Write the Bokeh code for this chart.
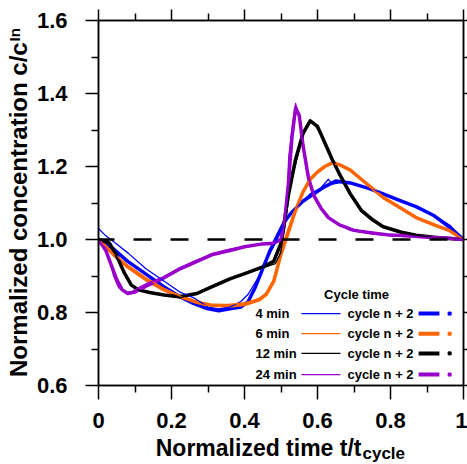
import math
from bokeh.plotting import figure
from bokeh.models import Range1d, LinearAxis, Span, Title, FixedTicker, CustomJSTickFormatter
from bokeh.core.properties import value
from bokeh.embed import file_html
from bokeh.resources import INLINE

# ---------------- data ----------------
x_ticks = [0, 0.2, 0.4, 0.6, 0.8, 1.0]
x_tick_labels = ["0", "0.2", "0.4", "0.6", "0.8", "1"]
x_minor = [0.1, 0.3, 0.5, 0.7, 0.9]
y_ticks = [0.6, 0.8, 1.0, 1.2, 1.4, 1.6]
y_tick_labels = ["0.6", "0.8", "1.0", "1.2", "1.4", "1.6"]
y_minor = [0.7, 0.9, 1.1, 1.3, 1.5]

cycle_names = ["4  min", "6 min", "12 min", "24 min"]
colors = ["#0000FF", "#FF6600", "#000000", "#9900CC"]

# 4 min
t4 = [0, 0.02, 0.047, 0.082, 0.13, 0.19, 0.225, 0.26, 0.30, 0.33, 0.36, 0.39, 0.41, 0.436, 0.463,
      0.485, 0.507, 0.526, 0.553, 0.581, 0.608, 0.63, 0.64, 0.663, 0.69, 0.737, 0.781, 0.827, 0.874,
      0.918, 0.964, 1.0]
c4 = [1.03, 1.01, 0.99, 0.962, 0.92, 0.879, 0.855, 0.841, 0.815, 0.81, 0.815, 0.83, 0.85, 0.893, 0.948,
      0.992, 1.038, 1.071, 1.099, 1.126, 1.14, 1.165, 1.152, 1.156, 1.156, 1.142, 1.126, 1.107, 1.088,
      1.066, 1.038, 1.0]
t4n2 = [0, 0.04, 0.08, 0.13, 0.18, 0.22, 0.26, 0.30, 0.33, 0.36, 0.39, 0.41, 0.43, 0.45, 0.47, 0.49,
        0.51, 0.53, 0.56, 0.59, 0.62, 0.65, 0.69, 0.74, 0.78, 0.83, 0.87, 0.92, 0.96, 1.0]
c4n2 = [1.0, 0.975, 0.94, 0.905, 0.87, 0.845, 0.825, 0.81, 0.805, 0.81, 0.815, 0.83, 0.87, 0.92, 0.97,
        1.01, 1.05, 1.075, 1.105, 1.125, 1.145, 1.16, 1.155, 1.14, 1.125, 1.105, 1.09, 1.065, 1.035, 1.0]

# 6 min
t6 = [0, 0.038, 0.082, 0.129, 0.175, 0.219, 0.266, 0.293, 0.312, 0.356, 0.403, 0.449, 0.463, 0.471,
      0.485, 0.493, 0.504, 0.518, 0.534, 0.553, 0.573, 0.589, 0.616, 0.641, 0.663, 0.69, 0.718, 0.745,
      0.781, 0.827, 0.874, 0.918, 0.964, 1.0]
c6 = [1.0, 0.964, 0.929, 0.896, 0.868, 0.847, 0.827, 0.819, 0.822, 0.822, 0.827, 0.841, 0.860, 0.874,
      0.901, 0.937, 0.984, 1.025, 1.071, 1.115, 1.153, 1.175, 1.197, 1.208, 1.203, 1.189, 1.167, 1.142,
      1.112, 1.085, 1.060, 1.038, 1.025, 1.0]
t6n2 = [0, 0.04, 0.08, 0.13, 0.18, 0.22, 0.27, 0.31, 0.36, 0.40, 0.44, 0.46, 0.48, 0.50, 0.52, 0.54,
        0.56, 0.58, 0.60, 0.62, 0.64, 0.66, 0.69, 0.72, 0.75, 0.78, 0.83, 0.87, 0.92, 0.96, 1.0]
c6n2 = [1.0, 0.96, 0.925, 0.89, 0.862, 0.845, 0.828, 0.82, 0.818, 0.822, 0.835, 0.85, 0.885, 0.96, 1.02,
        1.08, 1.13, 1.165, 1.185, 1.2, 1.21, 1.205, 1.19, 1.165, 1.14, 1.115, 1.085, 1.06, 1.04, 1.025, 1.0]

# 12 min
t12 = [0, 0.027, 0.041, 0.068, 0.082, 0.096, 0.115, 0.15, 0.178, 0.225, 0.271, 0.315, 0.362, 0.408,
       0.452, 0.485, 0.499, 0.51, 0.526, 0.545, 0.562, 0.575, 0.589, 0.608, 0.627, 0.644, 0.663, 0.69,
       0.718, 0.745, 0.781, 0.827, 0.874, 0.918, 0.964, 1.0]
c12 = [1.0, 0.997, 0.97, 0.915, 0.89, 0.868, 0.860, 0.852, 0.847, 0.841, 0.855, 0.874, 0.893, 0.910,
       0.923, 0.934, 0.964, 1.03, 1.153, 1.225, 1.290, 1.321, 1.321, 1.290, 1.249, 1.208, 1.170, 1.12,
       1.079, 1.055, 1.033, 1.019, 1.011, 1.005, 1.003, 1.0]
t12n2 = [0, 0.03, 0.05, 0.07, 0.09, 0.11, 0.14, 0.18, 0.22, 0.27, 0.31, 0.36, 0.41, 0.45, 0.48, 0.50,
         0.52, 0.54, 0.56, 0.58, 0.60, 0.62, 0.64, 0.66, 0.69, 0.72, 0.75, 0.78, 0.83, 0.87, 0.92, 0.96, 1.0]
c12n2 = [1.0, 0.99, 0.955, 0.91, 0.875, 0.862, 0.855, 0.848, 0.843, 0.852, 0.87, 0.892, 0.91, 0.925,
         0.94, 0.99, 1.12, 1.22, 1.29, 1.325, 1.31, 1.265, 1.22, 1.18, 1.125, 1.08, 1.055, 1.035, 1.02,
         1.012, 1.006, 1.003, 1.0]

# 24 min
t24 = [0, 0.019, 0.033, 0.041, 0.055, 0.074, 0.093, 0.110, 0.137, 0.175, 0.219, 0.266, 0.293, 0.312,
       0.356, 0.403, 0.449, 0.471, 0.49, 0.504, 0.512, 0.518, 0.521, 0.532, 0.540, 0.548, 0.559, 0.573,
       0.589, 0.608, 0.627, 0.655, 0.69, 0.745, 0.8, 0.9, 1.0]
c24 = [1.0, 0.975, 0.937, 0.901, 0.868, 0.855, 0.858, 0.868, 0.882, 0.896, 0.921, 0.942, 0.953, 0.962,
       0.973, 0.981, 0.989, 0.99, 0.992, 1.005, 1.060, 1.134, 1.225, 1.318, 1.373, 1.345, 1.271, 1.181,
       1.126, 1.088, 1.060, 1.044, 1.025, 1.016, 1.01, 1.005, 1.0]
t24n2 = [0, 0.02, 0.035, 0.05, 0.065, 0.08, 0.10, 0.13, 0.17, 0.22, 0.27, 0.31, 0.36, 0.40, 0.45, 0.48,
         0.50, 0.51, 0.52, 0.53, 0.54, 0.55, 0.56, 0.575, 0.59, 0.61, 0.63, 0.66, 0.70, 0.75, 0.8, 0.85,
         0.9, 0.95, 1.0]
c24n2 = [1.0, 0.97, 0.93, 0.89, 0.862, 0.852, 0.856, 0.872, 0.89, 0.918, 0.94, 0.958, 0.97, 0.98, 0.988,
         0.99, 1.0, 1.05, 1.15, 1.28, 1.36, 1.34, 1.26, 1.17, 1.12, 1.085, 1.06, 1.04, 1.025, 1.018, 1.012,
         1.01, 1.006, 1.004, 1.0]

reference_level = 1.0

x_title, x_sub = "Normalized time t/t", "cycle"
y_title, y_sub = "Normalized concentration c/c", "In"

# ---------------- figure ----------------
FONT = "Liberation Sans"
NBSP = "\u00a0"

p = figure(width=467, height=464, output_backend="svg", toolbar_location=None,
           x_range=Range1d(0, 1), y_range=Range1d(0.6, 1.6),
           min_border_left=98, min_border_right=4, min_border_top=20, min_border_bottom=79)
p.xgrid.visible = False
p.ygrid.visible = False
p.outline_line_color = "black"
p.outline_line_width = 1.5
p.background_fill_color = "white"
p.border_fill_color = "white"

xt = FixedTicker(ticks=x_ticks, minor_ticks=x_minor)
yt = FixedTicker(ticks=y_ticks, minor_ticks=y_minor)

bx = p.xaxis[0]
bx.ticker = xt
bx.major_label_overrides = {t: s for t, s in zip(x_ticks, x_tick_labels)}
by = p.yaxis[0]
by.ticker = yt
by.major_label_overrides = {t: s for t, s in zip(y_ticks, y_tick_labels)}

for ax in (bx, by):
    ax.axis_line_width = 1.5
    ax.major_tick_line_width = 1.5
    ax.minor_tick_line_width = 1.5
    ax.major_tick_in = 0
    ax.minor_tick_in = 0
    ax.major_label_text_font = FONT
    ax.major_label_text_font_style = "bold"
    ax.major_label_text_font_size = "22px"
    ax.major_label_text_color = "black"
    ax.axis_label_text_font = FONT
    ax.axis_label_text_font_style = "bold"
    ax.axis_label_text_color = "black"
bx.major_tick_out = 14
bx.minor_tick_out = 7
bx.major_label_standoff = 13
by.major_tick_out = 13
by.minor_tick_out = 7
by.major_label_standoff = 18

# axis titles: trailing no-break spaces shift the centred text to leave room for the subscript
bx.axis_label = x_title + NBSP * 7
bx.axis_label_text_font_size = "23px"
bx.axis_label_standoff = 4
by.axis_label = y_title + NBSP * 2
by.axis_label_text_font_size = "24px"
by.axis_label_standoff = 2

blank = CustomJSTickFormatter(code="return ''")
top = LinearAxis(ticker=xt, formatter=blank, axis_line_width=1.5, major_tick_line_width=1.5,
                 minor_tick_line_width=1.5, major_tick_in=0, minor_tick_in=0,
                 major_tick_out=11, minor_tick_out=7, major_label_standoff=0)
right = LinearAxis(ticker=yt, formatter=blank, axis_line_width=1.5, major_tick_line_width=1.5,
                   minor_tick_line_width=1.5, major_tick_in=0, minor_tick_in=0,
                   major_tick_out=4, minor_tick_out=4, major_label_standoff=0)
p.add_layout(top, "above")
p.add_layout(right, "right")

# dashed reference line
p.add_layout(Span(location=reference_level, dimension="width", line_color="black",
                  line_width=2.5, line_dash="18 19", line_dash_offset=2))

series_thin = [(t4, c4), (t6, c6), (t12, c12), (t24, c24)]
series_n2 = [(t4n2, c4n2), (t6n2, c6n2), (t12n2, c12n2), (t24n2, c24n2)]

for (tx, cy), col in zip(series_n2, colors):
    p.line(tx, cy, line_color=col, line_width=3.5, line_join="round")
for (tx, cy), col in zip(series_thin, colors):
    p.line(tx, cy, line_color=col, line_width=1.3, line_join="round")

# ---------------- legend (manual) ----------------
LEG = dict(text_font=value(FONT), text_font_size="13px", text_font_style="bold",
           text_baseline="middle", text_color="black")
p.text(x=[0.707], y=[0.849], text=["Cycle time"], text_align="center", **LEG)
row_y = [0.797, 0.742, 0.688, 0.630]
p.text(x=[0.430] * 4, y=row_y, text=cycle_names, text_align="left", **LEG)
p.text(x=[0.682] * 4, y=row_y, text=["cycle n + 2"] * 4, text_align="left", **LEG)
p.segment(x0=[0.556] * 4, x1=[0.663] * 4, y0=row_y, y1=row_y, line_color=colors, line_width=1.3)
p.segment(x0=[0.877] * 4, x1=[0.934] * 4, y0=row_y, y1=row_y, line_color=colors, line_width=4)
p.scatter(x=[0.962] * 4, y=row_y, marker="square", size=3, fill_color=colors, line_color=colors)

# ---------------- subscripts (titles placed after the axes in the side panels) ----------------
TT = dict(text_font=FONT, text_font_style="bold", text_color="black", align="left")
p.add_layout(Title(text=x_sub, text_font_size="17px", vertical_align="top",
                   offset=264, standoff=-40, **TT), "below")
p.add_layout(Title(text=y_sub, text_font_size="15px", vertical_align="bottom",
                   offset=344, standoff=-42, **TT), "left")

open("out.html", "w").write(file_html(p, INLINE))
